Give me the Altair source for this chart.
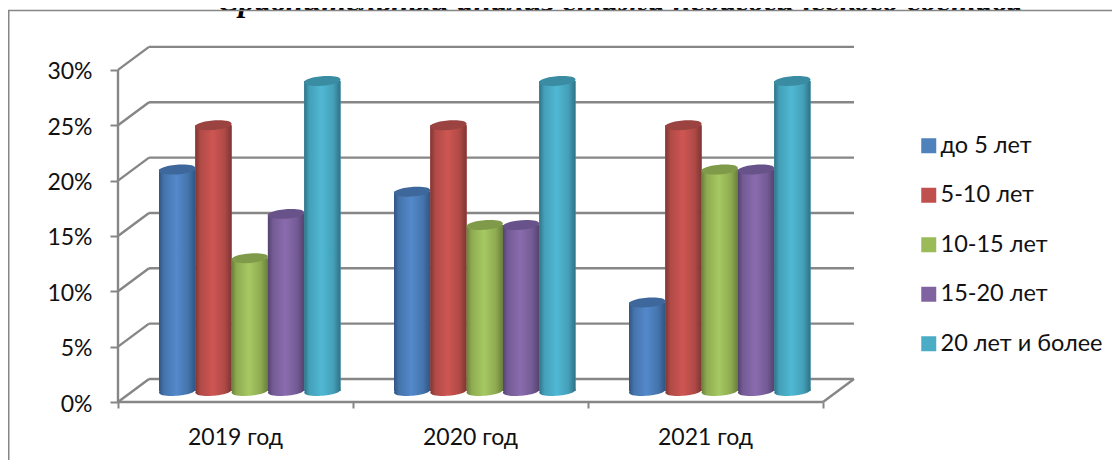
import altair as alt
import pandas as pd

years = ["2019 год", "2020 год", "2021 год"]
series = ["до 5 лет", "5-10 лет", "10-15 лет", "15-20 лет", "20 лет и более"]
v_under5 = [0.20, 0.18, 0.08]
v_5_10 = [0.24, 0.24, 0.24]
v_10_15 = [0.12, 0.15, 0.20]
v_15_20 = [0.16, 0.15, 0.20]
v_20plus = [0.28, 0.28, 0.28]
values = [v_under5, v_5_10, v_10_15, v_15_20, v_20plus]
y_ticks = [0, 0.05, 0.10, 0.15, 0.20, 0.25, 0.30]
title_text = "Сравнительный анализ стажа педагогического состава"

flat = ["#4F81BD", "#C0504D", "#9BBB59", "#8064A2", "#4BACC6"]
edge = ["#2F5583", "#7F3533", "#68803A", "#54436F", "#2F7286"]
mid = ["#4574AC", "#B04A47", "#8FAB51", "#745B95", "#44A0B8"]
light = ["#5389CB", "#CE5652", "#A6C963", "#8A6CAE", "#50B8D4"]
cap = ["#3E689B", "#9A4340", "#7F9A49", "#68528A", "#3A8CA2"]

GRID = "#868686"
FONT = "Lato"
FS = 23
PX_X, PX_Y = 235.0, 1107.0   # px per group, px per unit of share
W, H = 736, 356
DX, DY = 31 / PX_X, 23 / PX_Y         # wall depth
BX, BY = 41 / PX_X, 11 / PX_Y         # cylinder foot inside floor
BW = 36.3 / PX_X

rows = []
for i, s in enumerate(series):
    for g in range(len(years)):
        x0 = g + BX + i * BW
        rows.append({"s": s, "i": i, "g": g, "v": values[i][g],
                     "x0": x0, "x1": x0 + BW, "xc": x0 + BW / 2,
                     "top": values[i][g] + BY, "base": BY})
df = pd.DataFrame(rows)

xs = alt.Scale(domain=[0, W / PX_X], nice=False, zero=False)
ys = alt.Scale(domain=[0, H / PX_Y], nice=False, zero=False)
x_axis = alt.Axis(
    values=[0, 1, 2, 3], domain=False, grid=False, tickColor=GRID, tickWidth=2, tickSize=6,
    labelExpr="['2019 год','2020 год','2021 год',''][datum.value]",
    labelOffset=117, labelPadding=18, labelFontSize=FS, labelFont=FONT,
    labelColor="#111111", labelAngle=0, labelFlush=False, labelOverlap=False)
y_axis = alt.Axis(
    values=y_ticks, format=".0%", domain=False, grid=False, tickColor=GRID, tickWidth=2, tickSize=8,
    labelPadding=18, labelOffset=2, labelFontSize=FS, labelFont=FONT, labelColor="#111111", labelOverlap=False)
X = lambda f: alt.X(f, type="quantitative", scale=xs, axis=x_axis, title=None)
Y = lambda f: alt.Y(f, type="quantitative", scale=ys, axis=y_axis, title=None)

lines = pd.DataFrame(
    [{"x": DX, "x2": 3 + DX, "y": t + DY, "y2": t + DY} for t in y_ticks]
    + [{"x": 0, "x2": DX, "y": t, "y2": t + DY} for t in y_ticks]
    + [{"x": 3, "x2": 3 + DX, "y": 0, "y2": DY},
       {"x": 0, "x2": 3, "y": 0, "y2": 0},
       {"x": 0, "x2": 0, "y": 0, "y2": y_ticks[-1]}]
)

grid_layer = alt.Chart(lines).mark_rule(color=GRID, strokeWidth=2.4, clip=False).encode(
    x=X("x"), x2="x2", y=Y("y"), y2="y2")

flat_layer = alt.Chart(df).mark_rect().encode(
    x=X("x0"), x2="x1", y=Y("base"), y2="top",
    color=alt.Color("s:N", scale=alt.Scale(domain=series, range=flat), legend=alt.Legend(
        title=None, orient="none", legendX=799, legendY=88, symbolType="square", symbolSize=225,
        symbolStrokeWidth=0, symbolOpacity=1, labelFontSize=23.5, labelFont=FONT, labelColor="#111111",
        rowPadding=24.5, labelOffset=0, labelLimit=300)),
)

ELL = "M-1,0.08 C-1,-0.28 1,-0.42 1,-0.08 C1,0.28 -1,0.42 -1,0.08 Z"
SIZE = 36.3 ** 2


def grad(i):
    return {"gradient": "linear", "x1": 0, "y1": 0, "x2": 1, "y2": 0, "stops": [
        {"offset": 0, "color": edge[i]}, {"offset": 0.14, "color": mid[i]},
        {"offset": 0.48, "color": light[i]}, {"offset": 0.8, "color": mid[i]},
        {"offset": 1, "color": edge[i]}]}


cyl = []
for i, s in enumerate(series):
    d = df[df.i == i]
    cyl.append(alt.Chart(d).mark_point(shape=ELL, filled=True, fill=grad(i), opacity=1, strokeWidth=0, size=SIZE).encode(
        x=X("xc"), y=Y("base")))
    cyl.append(alt.Chart(d).mark_rect(fill=grad(i)).encode(x=X("x0"), x2="x1", y=Y("base"), y2="top"))
    cyl.append(alt.Chart(d).mark_point(shape=ELL, filled=True, fill=cap[i], opacity=1, strokeWidth=0, size=SIZE).encode(
        x=X("xc"), y=Y("top")))

one = pd.DataFrame({"a": [0], "t": [title_text]})
frame_top = alt.Chart(one).mark_rule(color=GRID, strokeWidth=1.5).encode(
    x=alt.value(-110), x2=alt.value(994), y=alt.value(-35.5))
frame_left = alt.Chart(one).mark_rule(color=GRID, strokeWidth=2).encode(
    x=alt.value(-109.5), y=alt.value(-35.5), y2=alt.value(414))
title_mark = alt.Chart(one).mark_text(
    font="Liberation Serif", fontSize=32.3, fontWeight="bold", fontStyle="italic", color="#000000",
    align="center", baseline="alphabetic").encode(text="t:N", x=alt.value(502), y=alt.value(-35))

chart = alt.layer(title_mark, frame_top, frame_left, grid_layer, flat_layer, *cyl).properties(
    width=W, height=H,
    autosize=alt.AutoSizeParams(type="none"),
    padding={"left": 110, "top": 38, "right": 258, "bottom": 60},
    background="white",
).configure_view(stroke=None)

chart.save("out.html", embed_options={"renderer": "svg", "actions": False})
